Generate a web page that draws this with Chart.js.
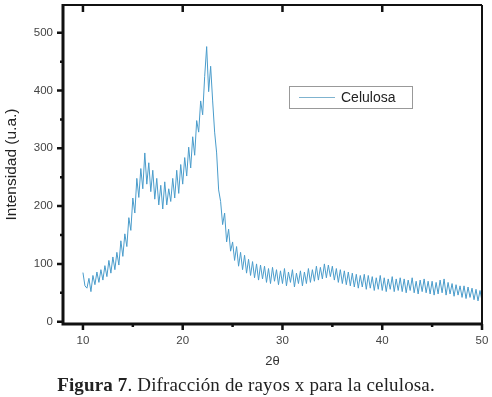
<!DOCTYPE html>
<html>
<head>
<meta charset="utf-8">
<script src="https://cdn.jsdelivr.net/npm/chart.js@4"></script>
<style>
  html, body { margin: 0; padding: 0; background: #fff; }
  #wrap { position: relative; width: 492px; height: 397px; }
  #caption { position: absolute; left: 0; width: 492px; top: 374px; text-align: center; letter-spacing: 0.15px;
    font-family: "Liberation Serif", "Times New Roman", serif; font-size: 19px; color: #222; white-space: nowrap; }
</style>
</head>
<body>
<div id="wrap">
  <canvas id="c" width="492" height="397"></canvas>
  <div id="caption"><b>Figura 7</b>. Difracción de rayos x para la celulosa.</div>
</div>
<script>
// Sampling grid of the diffractogram (2θ, degrees)
const startAngle = 10;
const angleStep = 0.2;
// Intensity (u.a.), one value per 0.2°
const intensity = [
  85, 62, 58, 75, 52,
  80, 64, 86, 68, 90,
  72, 97, 78, 106, 84,
  112, 90, 120, 98, 140,
  113, 152, 130, 180, 158,
  214, 188, 248, 215, 265,
  230, 292, 238, 275, 225,
  262, 212, 248, 202, 236,
  195, 242, 202, 230, 208,
  248, 214, 262, 222, 272,
  238, 284, 252, 302, 266,
  320, 288, 348, 328, 382,
  358, 424, 476, 398, 442,
  382, 328, 292, 228, 208,
  168, 188, 138, 160, 122,
  138, 106, 130, 96, 120,
  90, 115, 84, 108, 80,
  104, 76, 100, 72, 98,
  74, 96, 68, 92, 66,
  94, 70, 90, 64, 88,
  66, 92, 62, 86, 68,
  90, 60, 84, 66, 88,
  62, 86, 66, 92, 68,
  90, 70, 96, 72, 94,
  74, 100, 76, 98, 78,
  96, 72, 92, 68, 90,
  66, 88, 64, 86, 62,
  84, 60, 82, 58, 80,
  60, 82, 56, 80, 58,
  78, 54, 76, 56, 80,
  54, 76, 52, 74, 56,
  78, 52, 74, 54, 76,
  52, 74, 50, 72, 54,
  76, 50, 70, 48, 72,
  52, 74, 50, 70, 48,
  70, 46, 68, 48, 72,
  50, 74, 46, 68, 48,
  66, 44, 64, 46, 62,
  42, 62, 40, 60, 42,
  58, 38, 56, 36, 54,
  36
];
const xMajorTicks = [10, 20, 30, 40, 50];
const xMinorTicks = [15, 25, 35, 45];
const yMajorTicks = [0, 100, 200, 300, 400, 500];
const yMinorTicks = [50, 150, 250, 350, 450];
const seriesName = 'Celulosa';

const points = intensity.map((v, i) => ({ x: +(startAngle + i * angleStep).toFixed(2), y: v }));
const lineColor = '#4a9ccb';

function zeroPadding(scale) {
  scale.paddingTop = 0; scale.paddingBottom = 0;
  scale.paddingLeft = 0; scale.paddingRight = 0;
}

const framePlugin = {
  id: 'frame',
  afterDatasetsDraw(chart) {
    const { ctx, chartArea: ca, scales } = chart;
    const xs = scales.x, ys = scales.y;
    ctx.save();
    ctx.strokeStyle = '#111';
    ctx.lineCap = 'butt';
    // frame
    ctx.lineWidth = 2;
    ctx.beginPath();
    ctx.moveTo(ca.left, ca.top); ctx.lineTo(ca.right, ca.top);
    ctx.moveTo(ca.right, ca.top); ctx.lineTo(ca.right, ca.bottom);
    ctx.stroke();
    ctx.lineWidth = 3;
    ctx.beginPath();
    ctx.moveTo(ca.left, ca.top - 1); ctx.lineTo(ca.left, ca.bottom + 1.5);
    ctx.moveTo(ca.left - 1.5, ca.bottom); ctx.lineTo(ca.right + 1, ca.bottom);
    ctx.stroke();
    // ticks
    ctx.lineWidth = 2.5;
    ctx.beginPath();
    xMajorTicks.forEach(v => {
      const px = xs.getPixelForValue(v);
      ctx.moveTo(px, ca.bottom); ctx.lineTo(px, ca.bottom + 6);
      if (v < 50) { ctx.moveTo(px, ca.top); ctx.lineTo(px, ca.top + 7); }
    });
    xMinorTicks.forEach(v => {
      const px = xs.getPixelForValue(v);
      ctx.moveTo(px, ca.bottom); ctx.lineTo(px, ca.bottom + 3);
    });
    yMajorTicks.forEach(v => {
      const py = ys.getPixelForValue(v);
      ctx.moveTo(ca.left, py); ctx.lineTo(ca.left - 6, py);
    });
    yMinorTicks.forEach(v => {
      const py = ys.getPixelForValue(v);
      ctx.moveTo(ca.left, py); ctx.lineTo(ca.left - 3, py);
    });
    ctx.stroke();
    // legend
    const lx = ca.left + 226, ly = ca.top + 81, lw = 123, lh = 22;
    ctx.fillStyle = '#fff';
    ctx.fillRect(lx, ly, lw, lh);
    ctx.strokeStyle = '#999';
    ctx.lineWidth = 1;
    ctx.strokeRect(lx + 0.5, ly + 0.5, lw, lh);
    ctx.strokeStyle = '#7fb3cf';
    ctx.lineWidth = 1;
    ctx.beginPath();
    ctx.moveTo(lx + 10, ly + 11.5); ctx.lineTo(lx + 46, ly + 11.5);
    ctx.stroke();
    ctx.fillStyle = '#222';
    ctx.font = '14px "Liberation Sans", Arial, sans-serif';
    ctx.textBaseline = 'middle';
    ctx.textAlign = 'left';
    ctx.fillText(chart.data.datasets[0].label, lx + 52, ly + 12);
    ctx.restore();
  }
};

new Chart(document.getElementById('c'), {
  type: 'line',
  data: {
    datasets: [{
      label: seriesName,
      data: points,
      borderColor: lineColor,
      borderWidth: 1,
      pointRadius: 0,
      tension: 0,
      fill: false
    }]
  },
  options: {
    responsive: false,
    animation: false,
    devicePixelRatio: 1,
    layout: { autoPadding: false, padding: { left: 0, right: 10, top: 5, bottom: 23 } },
    plugins: { legend: { display: false }, tooltip: { enabled: false } },
    scales: {
      x: {
        type: 'linear',
        min: 8, max: 50,
        grid: { display: false, drawTicks: false },
        border: { display: false },
        ticks: {
          stepSize: 10, includeBounds: false, padding: 10, maxRotation: 0,
          color: '#444', font: { family: '"Liberation Sans", Arial, sans-serif', size: 11.5 }
        },
        title: {
          display: true, text: '2θ', color: '#333', padding: { top: 2, bottom: 5 },
          font: { family: '"Liberation Sans", Arial, sans-serif', size: 13 }
        },
        afterFit(scale) { scale.height = 50; zeroPadding(scale); }
      },
      y: {
        type: 'linear',
        min: -4, max: 548,
        grid: { display: false, drawTicks: false },
        border: { display: false },
        ticks: {
          stepSize: 100, includeBounds: false, padding: 10,
          color: '#444', font: { family: '"Liberation Sans", Arial, sans-serif', size: 11.5 }
        },
        title: {
          display: true, text: 'Intensidad (u.a.)', color: '#222', padding: { top: 2, bottom: 2 },
          font: { family: '"Liberation Sans", Arial, sans-serif', size: 15.5 }
        },
        afterFit(scale) { scale.width = 63; zeroPadding(scale); }
      }
    }
  },
  plugins: [framePlugin]
});
</script>
</body>
</html>
